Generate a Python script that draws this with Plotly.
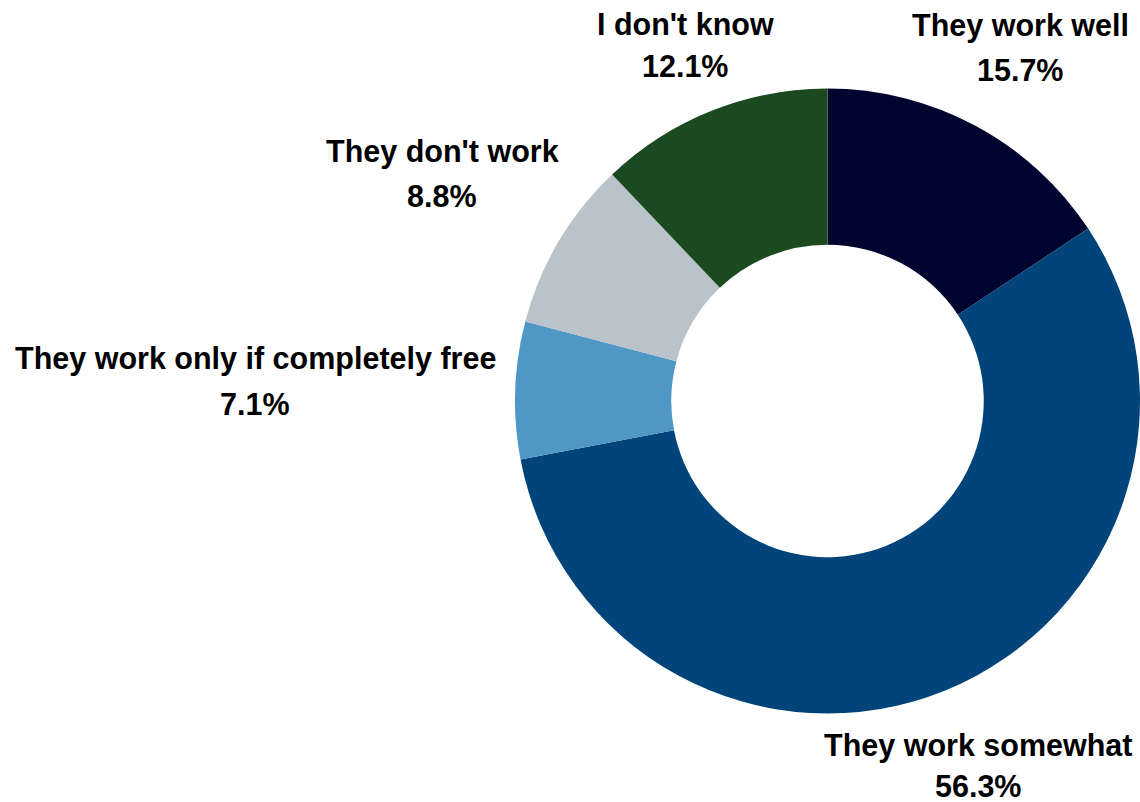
import plotly.graph_objects as go

# Survey answers, listed clockwise from 12 o'clock
categories = [
    "They work well",
    "They work somewhat",
    "They work only if completely free",
    "They don't work",
    "I don't know",
]
shares = [15.7, 56.3, 7.1, 8.8, 12.1]
colors = ["#00052f", "#00447a", "#4f97c5", "#b9c3c9", "#1c4a20"]

W, H = 1140, 802

# Label anchor points in pixels: (x centre, y of name line, y of value line)
label_px = [
    (1020, 25, 70),
    (978, 745, 786),
    (255, 358, 404),
    (442, 152, 196),
    (685, 24, 66),
]

fig = go.Figure(
    go.Pie(
        labels=categories,
        values=shares,
        hole=0.5,
        sort=False,
        direction="clockwise",
        rotation=0,
        marker=dict(colors=colors, line=dict(width=0)),
        textinfo="none",
        hoverinfo="label+percent",
        domain=dict(x=[(828 - 313) / W, 1.0], y=[(401 - 313) / H, (401 + 313) / H]),
        showlegend=False,
    )
)

font = dict(family="Liberation Sans, Arial, sans-serif", size=30.5, color="#000000")
annotations = []
for name, val, (px, py1, py2) in zip(categories, shares, label_px):
    annotations.append(dict(
        text=f"<b>{name}</b>", x=px / W, y=1 - py1 / H, xref="paper", yref="paper",
        xanchor="center", yanchor="middle", showarrow=False, font=font,
    ))
    annotations.append(dict(
        text=f"<b>{val:.1f}%</b>", x=px / W, y=1 - py2 / H, xref="paper", yref="paper",
        xanchor="center", yanchor="middle", showarrow=False, font=font,
    ))

fig.update_layout(
    width=W,
    height=H,
    margin=dict(l=0, r=0, t=0, b=0),
    paper_bgcolor="#ffffff",
    plot_bgcolor="#ffffff",
    annotations=annotations,
)

fig.write_html("out.html")
